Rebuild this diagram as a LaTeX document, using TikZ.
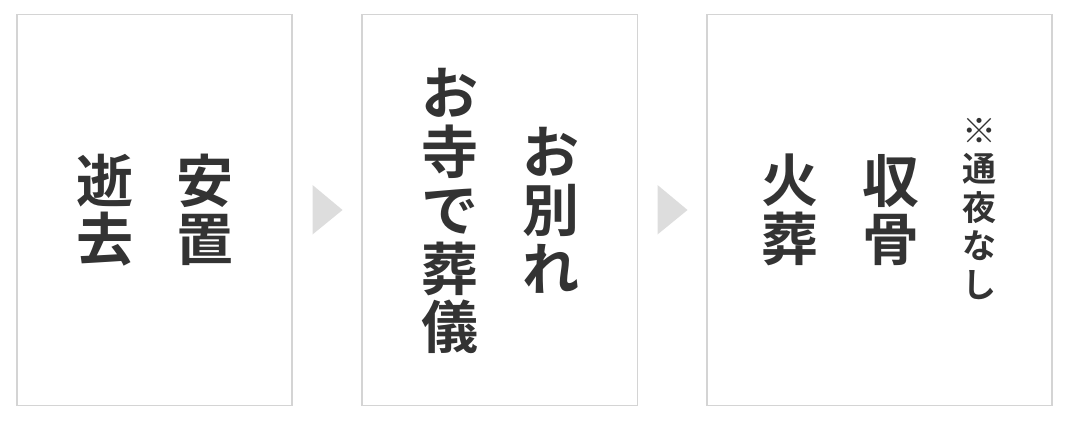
\documentclass[tikz,border=0pt]{standalone}
\usepackage{fontspec}
\newfontfamily\cjk{Noto Sans CJK JP}[BoldFont={Noto Sans CJK JP Bold}]
\definecolor{boxline}{HTML}{D4D4D4}
\definecolor{arrowfill}{HTML}{DDDDDD}
\definecolor{ink}{HTML}{333333}
\begin{document}
\begin{tikzpicture}[x=1pt,y=-1pt,
  panel/.style={draw=boxline,line width=1.2pt,fill=white},
  bigcol/.style={inner sep=0pt,align=center,text=ink,font=\cjk\bfseries\fontsize{57}{58.5}\selectfont},
  smallcol/.style={inner sep=0pt,align=center,text=ink,font=\cjk\fontsize{34}{38.5}\selectfont}]
\useasboundingbox[fill=white] (0,0) rectangle (1070,420);
\draw[panel] (17,14.5) rectangle (292,405.5);
\draw[panel] (362,14.5) rectangle (637.5,405.5);
\draw[panel] (707,14.5) rectangle (1052,405.5);
\fill[arrowfill] (312.5,185) -- (342.5,210) -- (312.5,234.5) -- cycle;
\fill[arrowfill] (657.5,185) -- (687.5,210) -- (657.5,234.5) -- cycle;
\node[bigcol] (t1a) at (205,210) {安\\置};
\node[bigcol] (t1b) at (105,210) {逝\\去};
\node[bigcol] (t2a) at (551,210) {お\\別\\れ};
\node[bigcol] (t2b) at (450,211) {お\\寺\\で\\葬\\儀};
\node[smallcol] (t3a) at (979,209) {\bfseries ※\\\bfseries 通\\\bfseries 夜\\\bfseries な\\\bfseries し};
\node[bigcol] (t3b) at (891,210) {収\\骨};
\node[bigcol] (t3c) at (790,210) {火\\葬};
\end{tikzpicture}
\end{document}
